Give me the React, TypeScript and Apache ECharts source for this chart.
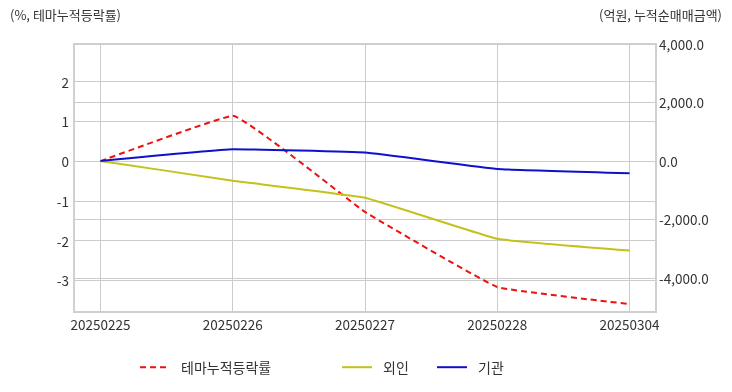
import React, { useEffect, useRef } from "react";
import * as echarts from "echarts";

const categories = ["20250225", "20250226", "20250227", "20250228", "20250304"];
const themeRate = [0, 1.14, -1.28, -3.17, -3.6];
const foreign = [0, -676, -1259, -2665, -3064];
const institution = [0, 401, 285, -274, -423];
const leftTicks = [-3, -2, -1, 0, 1, 2];
const rightTicks = [-4000, -2000, 0, 2000, 4000];

const FONT = "'Noto Sans CJK KR', 'Noto Sans', sans-serif";
const TXT = "#333";

export default function App() {
  const ref = useRef<HTMLDivElement>(null);
  useEffect(() => {
    if (!ref.current) return;
    const chart = echarts.init(ref.current, null, { renderer: "svg" });
    const idx = categories.map((_, i) => i);
    const legendCommon = {
      top: 360,
      padding: 0,
      itemWidth: 30,
      itemHeight: 18,
      itemStyle: { opacity: 0 },
      textStyle: { color: TXT, fontSize: 14, fontFamily: FONT, padding: [0, 0, 0, 6] },
    };
    const option: any = {
      animation: false,
      textStyle: { fontFamily: FONT },
      grid: {
        left: 74,
        right: 76,
        top: 44,
        bottom: 80,
        show: true,
        borderColor: "#d0d0d0",
        borderWidth: 2,
        containLabel: false,
      },
      xAxis: {
        type: "value",
        min: -0.2,
        max: 4.2,
        axisLine: { show: false },
        axisTick: { show: false, customValues: idx },
        splitLine: { show: true, lineStyle: { color: "#cccccc", width: 1 } },
        axisLabel: {
          customValues: idx,
          color: TXT,
          fontSize: 13.5,
          fontFamily: FONT,
          margin: 5,
          formatter: (v: number) => categories[Math.round(v)] ?? "",
        },
      },
      yAxis: [
        {
          type: "value",
          min: -3.8,
          max: 2.95,
          axisLine: { show: false },
          axisTick: { show: false, customValues: leftTicks },
          splitLine: { show: true, lineStyle: { color: "#cccccc", width: 1 } },
          axisLabel: {
            customValues: leftTicks,
            color: TXT,
            fontSize: 13.5,
            fontFamily: FONT,
            margin: 5,
            formatter: (v: number) => String(v),
          },
        },
        {
          type: "value",
          min: -5170,
          max: 4000,
          axisLine: { show: false },
          axisTick: { show: false, customValues: rightTicks },
          splitLine: { show: true, lineStyle: { color: "#cccccc", width: 1 } },
          axisLabel: {
            customValues: rightTicks,
            color: TXT,
            fontSize: 13.5,
            fontFamily: FONT,
            margin: 3,
            formatter: (v: number) =>
              v.toLocaleString("en-US", { minimumFractionDigits: 1, maximumFractionDigits: 1 }),
          },
        },
      ],
      legend: [
        { ...legendCommon, data: ["테마누적등락률"], left: 139 },
        { ...legendCommon, data: ["외인"], left: 341 },
        { ...legendCommon, data: ["기관"], left: 436 },
      ],
      graphic: [
        {
          type: "text",
          left: 10,
          top: 8,
          style: { text: "(%, 테마누적등락률)", fill: TXT, font: `13px ${FONT}` },
        },
        {
          type: "text",
          right: 10,
          top: 8,
          style: { text: "(억원, 누적순매매금액)", fill: TXT, font: `13px ${FONT}` },
        },
      ],
      series: [
        {
          name: "테마누적등락률",
          type: "line",
          yAxisIndex: 0,
          symbol: "none",
          smooth: 0.08,
          color: "#ee1111",
          lineStyle: { color: "#ee1111", width: 2, type: [6, 4] },
          data: themeRate.map((v, i) => [i, v]),
        },
        {
          name: "외인",
          type: "line",
          yAxisIndex: 1,
          symbol: "none",
          smooth: 0.08,
          color: "#c2c21a",
          lineStyle: { color: "#c2c21a", width: 2 },
          data: foreign.map((v, i) => [i, v]),
        },
        {
          name: "기관",
          type: "line",
          yAxisIndex: 1,
          symbol: "none",
          smooth: 0.08,
          color: "#1010cc",
          lineStyle: { color: "#1010cc", width: 2 },
          data: institution.map((v, i) => [i, v]),
        },
      ],
    };
    chart.setOption(option);
    return () => chart.dispose();
  }, []);
  return (
    <div
      ref={ref}
      style={{ position: "fixed", left: 0, top: 0, width: 732, height: 392 }}
    />
  );
}
